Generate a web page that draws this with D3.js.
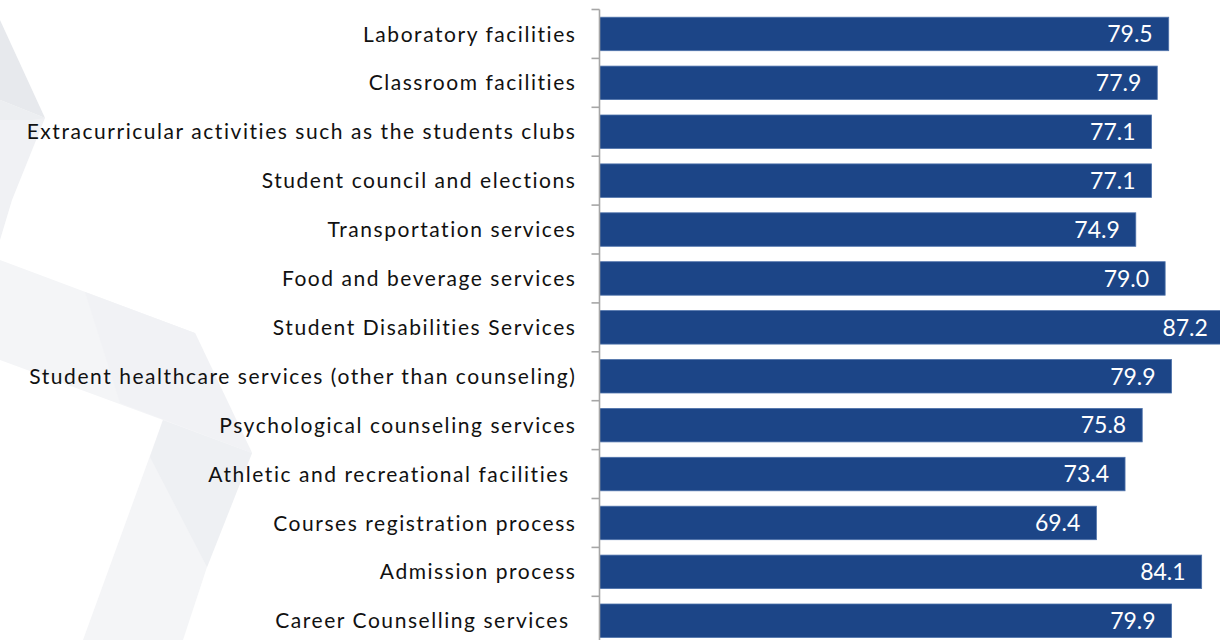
<!DOCTYPE html>
<html>
<head>
<meta charset="utf-8">
<script src="https://cdn.jsdelivr.net/npm/d3@7"></script>
<style>
  html, body { margin: 0; padding: 0; background: #ffffff; }
  svg { display: block; }
  text { white-space: pre; font-variant-ligatures: none; }
</style>
</head>
<body>
<svg id="chart" width="1220" height="640"></svg>
<script>
const categories = [
  "Laboratory facilities",
  "Classroom facilities",
  "Extracurricular activities such as the students clubs",
  "Student council and elections",
  "Transportation services",
  "Food and beverage services",
  "Student Disabilities Services",
  "Student healthcare services (other than counseling)",
  "Psychological counseling services",
  "Athletic and recreational facilities ",
  "Courses registration process",
  "Admission process",
  "Career Counselling services "
];
const values = [79.5, 77.9, 77.1, 77.1, 74.9, 79.0, 87.2, 79.9, 75.8, 73.4, 69.4, 84.1, 79.9];

const svg = d3.select("#chart");

// faint background decoration
const bgShapes = [
  {pts: [[0,20],[45,118],[0,100]], fill: "#e7e9ed"},
  {pts: [[0,100],[45,118],[12,200],[0,240]], fill: "#f0f1f4"},
  {pts: [[0,120],[30,120],[45,118],[0,100]], fill: "#eceef1"},
  {pts: [[0,260],[195,333],[252,453],[163,420],[0,360]], fill: "#f4f5f7"},
  {pts: [[85,292],[195,333],[252,453],[120,403]], fill: "#f1f2f5"},
  {pts: [[163,420],[252,453],[207,567],[183,640],[83,640]], fill: "#f4f5f7"},
  {pts: [[163,420],[252,453],[207,567],[150,457]], fill: "#eef0f3"}
];
svg.append("g").selectAll("polygon").data(bgShapes).join("polygon")
  .attr("points", d => d.pts.map(p => p.join(",")).join(" "))
  .attr("fill", d => d.fill);

const x = d3.scaleLinear().domain([0, 100]).range([599.5, 599.5 + 716]);
const y = d3.scaleBand().domain(categories).range([9.5, 645.2])
  .paddingInner(0.315).paddingOuter(0.1575);

const g = svg.append("g");

// bars
g.selectAll("rect.bar").data(values).join("rect")
  .attr("class", "bar")
  .attr("x", x(0))
  .attr("y", (d, i) => y(categories[i]))
  .attr("width", d => x(d) - x(0))
  .attr("height", y.bandwidth())
  .attr("fill", "#1c4587")
  .attr("stroke", "#4f73ab")
  .attr("stroke-width", 0.8);

// axis line and ticks at category boundaries
const r0 = y.range()[0];
const boundaries = d3.range(categories.length + 1).map(i => r0 + i * y.step());
g.append("line")
  .attr("x1", x(0)).attr("x2", x(0))
  .attr("y1", boundaries[0]).attr("y2", boundaries[boundaries.length - 1])
  .attr("stroke", "#a6a6a6").attr("stroke-width", 1.6);
g.selectAll("line.tick").data(boundaries).join("line")
  .attr("class", "tick")
  .attr("x1", x(0) - 8).attr("x2", x(0))
  .attr("y1", d => d).attr("y2", d => d)
  .attr("stroke", "#a6a6a6").attr("stroke-width", 1.6);

// category labels
g.selectAll("text.cat").data(categories).join("text")
  .attr("class", "cat")
  .attr("x", 576.5)
  .attr("y", d => y(d) + y.bandwidth() / 2)
  .attr("dy", "0.36em")
  .attr("text-anchor", "end")
  .attr("font-family", "Lato, 'Open Sans', sans-serif")
  .attr("font-size", 21)
  .attr("letter-spacing", 1.55)
  .attr("fill", "#111111")
  .text(d => d);

// value labels
g.selectAll("text.val").data(values).join("text")
  .attr("class", "val")
  .attr("x", d => Math.min(x(d), 1224) - 16)
  .attr("y", (d, i) => y(categories[i]) + y.bandwidth() / 2)
  .attr("dy", "0.36em")
  .attr("text-anchor", "end")
  .attr("font-family", "Lato, 'Open Sans', sans-serif")
  .attr("font-size", 23)
  .attr("fill", "#ffffff")
  .text(d => d.toFixed(1));
</script>
</body>
</html>
